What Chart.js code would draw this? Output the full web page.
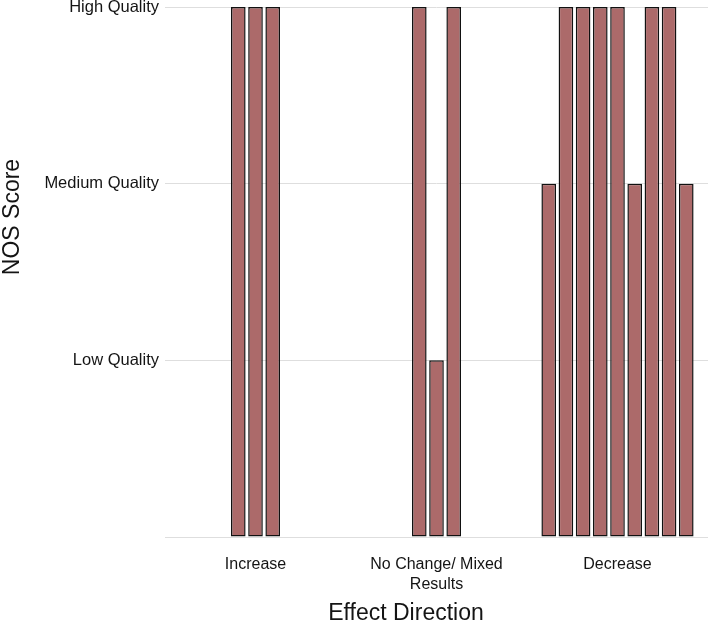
<!DOCTYPE html>
<html>
<head>
<meta charset="utf-8">
<script src="https://cdn.jsdelivr.net/npm/chart.js@4.4.1/dist/chart.umd.min.js"></script>
<style>
    html, body { margin: 0; padding: 0; background: #fff; }
    #m_chart_nos_score { display: block; }
</style>
</head>
<body>
<canvas id="m_chart_nos_score" width="708" height="623"></canvas>
<script>
var categories = ['Increase', ['No Change/ Mixed', 'Results'], 'Decrease'];
var increaseScores = [3, 3, 3];
var noChangeScores = [3, 1, 3];
var decreaseScores = [2, 3, 3, 3, 3, 2, 3, 3, 2];
var qualityLabels = ['', 'Low Quality', 'Medium Quality', 'High Quality'];

var barColor = '#ac6a6a';
var textColor = '#141414';
var fontFamily = '"Liberation Sans", Arial, Helvetica, sans-serif';

// put each group's studies in the middle slots so every group stays centred
var slotCount = decreaseScores.length;
var pickSlot = function (scores, slot) {
    var offset = (slotCount - scores.length) / 2;
    var j = slot - offset;
    return (j >= 0 && j < scores.length) ? scores[j] : null;
};

var datasets = [];
for (var i = 0; i < slotCount; i++) {
    datasets.push({
        data: [pickSlot(increaseScores, i), pickSlot(noChangeScores, i), pickSlot(decreaseScores, i)],
        backgroundColor: barColor,
        borderColor: '#111111',
        borderWidth: 1.5,
        borderSkipped: false,
        categoryPercentage: 0.855,
        barPercentage: 0.85
    });
}

var axisTitles = {
    id: 'axisTitles',
    afterDraw: function (chart) {
        var ctx = chart.ctx;
        ctx.save();
        ctx.fillStyle = textColor;
        ctx.font = '23px ' + fontFamily;
        ctx.textAlign = 'center';
        ctx.textBaseline = 'alphabetic';
        ctx.fillText('Effect Direction', 406, 620);
        ctx.translate(18.5, 217);
        ctx.rotate(-Math.PI / 2);
        ctx.fillText('NOS Score', 0, 0);
        ctx.restore();
    }
};

new Chart(document.getElementById('m_chart_nos_score'), {
    type: 'bar',
    data: {
        labels: categories,
        datasets: datasets
    },
    options: {
        responsive: false,
        animation: false,
        devicePixelRatio: 1,
        layout: { padding: 0 },
        plugins: {
            legend: { display: false },
            tooltip: { enabled: false }
        },
        scales: {
            x: {
                grid: { display: false },
                border: { display: false },
                ticks: {
                    color: textColor,
                    padding: 10,
                    font: { family: fontFamily, size: 16, lineHeight: 1.25 }
                },
                afterFit: function (scale) { scale.height = 86; }
            },
            y: {
                min: 0,
                max: 3,
                grid: { color: '#dedede', lineWidth: 1, drawTicks: false },
                border: { display: false },
                ticks: {
                    stepSize: 1,
                    color: textColor,
                    padding: 6,
                    font: { family: fontFamily, size: 16.5, lineHeight: 1 },
                    callback: function (value) { return qualityLabels[value]; }
                },
                afterFit: function (scale) {
                    scale.width = 165;
                    scale.paddingTop = 7;
                    scale.paddingBottom = 0;
                }
            }
        }
    },
    plugins: [axisTitles]
});
</script>
</body>
</html>
